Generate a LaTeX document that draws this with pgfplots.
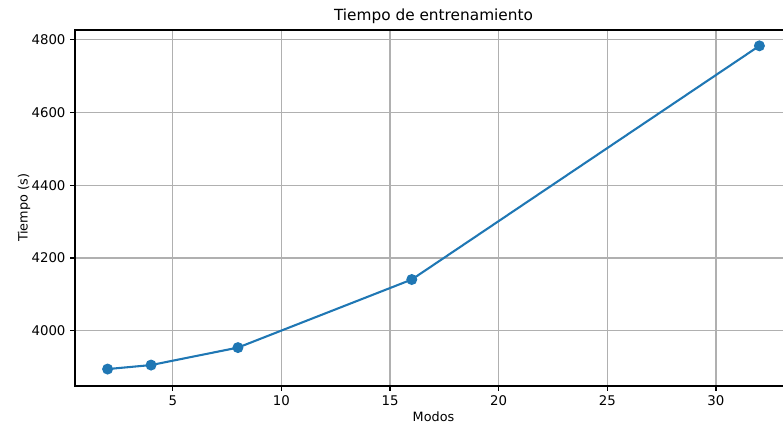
\documentclass[border=0pt]{standalone}
\usepackage{fontspec}
\setmainfont{DejaVu Sans}
\usepackage{pgfplots}
\pgfplotsset{compat=1.18}
\definecolor{mplblue}{HTML}{1F77B4}
\definecolor{gridgray}{HTML}{B0B0B0}
\begin{document}
\begin{tikzpicture}[x=1pt,y=1pt]
\begin{axis}[
  at={(0,0)}, anchor=south west,
  scale only axis,
  width=537.75pt, height=267pt,
  xmin=0.5, xmax=33.5,
  ymin=3848.5, ymax=4826.5,
  xtick={5,10,15,20,25,30},
  ytick={4000,4200,4400,4600,4800},
  grid=major,
  major grid style={color=gridgray, line width=0.83pt},
  axis line style={line width=0.83pt},
  tick style={black, line width=0.83pt},
  tick align=outside,
  major tick length=3.6pt,
  xtick pos=bottom, ytick pos=left,
  /pgf/number format/assume math mode=true,
  /pgf/number format/1000 sep={},
  tick label style={font=\fontsize{10}{12}\selectfont},
  label style={font=\fontsize{9.6}{12}\selectfont},
  title style={font=\fontsize{11.5}{14}\selectfont, yshift=-5pt},
  title={Tiempo de entrenamiento},
  xlabel={Modos},
  ylabel={Tiempo (s)},
  xlabel style={yshift=2pt},
  ylabel style={yshift=-6pt},
]
\addplot[color=mplblue, line width=1.56pt, mark=*, mark size=3.3pt,
  mark options={solid, fill=mplblue, draw=none}]
  coordinates {
    (2,3895) (4,3906) (8,3954) (16,4141) (32,4783)
  };
\end{axis}
\pgfresetboundingbox
\useasboundingbox (-56.25pt,-31.5pt) rectangle (531pt,289.5pt);
\end{tikzpicture}
\end{document}
